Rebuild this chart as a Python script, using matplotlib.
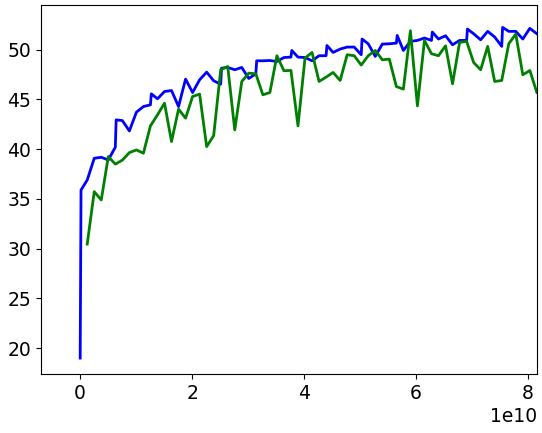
import matplotlib
matplotlib.use("Agg")
import matplotlib.pyplot as plt
import numpy as np

STEP = 0.1255e10  # spacing between evaluation points

# Blue series: step index (fractional .12 = re-evaluation right after a step) and value
blue_steps = [0, 0.12, 1, 2, 3, 4, 5, 5.12, 6, 7, 8, 9, 10, 10.12, 11, 12, 13, 14,
              15, 16, 17, 18, 19, 20, 20.12, 21, 22, 23, 24, 25, 25.12, 26, 27, 28,
              29, 30, 30.12, 31, 32, 33, 34, 35, 35.12, 36, 37, 38, 39, 40, 40.12,
              41, 42, 43, 44, 45, 45.12, 46, 47, 48, 49, 50, 50.12, 51, 52, 53, 54,
              55, 55.12, 56, 57, 58, 59, 60, 60.12, 61, 62, 63, 64, 65]
blue_vals = [19.0, 35.9, 36.9, 39.09, 39.19, 38.92, 40.2, 42.95, 42.88, 41.84, 43.72,
             44.29, 44.46, 45.57, 45.07, 45.8, 45.9, 44.29, 47.05, 45.7, 46.98, 47.75,
             46.88, 46.54, 48.15, 48.22, 47.99, 48.22, 47.11, 47.58, 48.89, 48.89,
             48.92, 48.82, 49.22, 49.26, 49.93, 49.26, 49.22, 48.89, 49.4, 49.4, 50.43,
             49.73, 50.07, 50.27, 50.27, 49.5, 51.08, 50.6, 49.33, 50.57, 50.6, 50.67,
             51.44, 49.93, 50.84, 50.94, 51.18, 50.94, 51.78, 51.08, 51.41, 50.5, 50.94,
             50.94, 52.08, 51.61, 51.0, 51.85, 51.28, 50.34, 52.25, 51.85, 51.85, 51.08,
             52.15, 51.61]

# Green series: step index 1..65 and value
green_steps = list(range(1, 66))
green_vals = [30.46, 35.73, 34.9, 39.26, 38.5, 38.9, 39.66, 39.93, 39.6, 42.35,
              43.45, 44.63, 40.77, 44.03, 43.12, 45.3, 45.54, 40.26, 41.37, 47.99,
              48.32, 41.94, 46.81, 47.65, 47.58, 45.47, 45.7, 49.4, 47.89, 47.92,
              42.35, 49.16, 49.73, 46.81, 47.25, 47.72, 46.91, 49.5, 49.4, 48.46,
              49.4, 49.93, 48.99, 49.06, 46.3, 46.04, 51.91, 44.36, 50.94, 49.6,
              49.4, 50.4, 46.58, 50.74, 50.84, 48.72, 47.99, 50.34, 46.81, 46.91,
              50.6, 51.58, 47.48, 47.92, 45.7]

y_ticks = [20, 25, 30, 35, 40, 45, 50]
x_ticks = [0, 2e10, 4e10, 6e10, 8e10]

plt.rcParams['font.size'] = 13.5

fig = plt.figure(figsize=(5.42, 4.33), dpi=100)
ax = fig.add_axes([41 / 542, 1 - 374 / 433, (537 - 41) / 542, (374 - 5) / 433])

bx = np.array(blue_steps) * STEP
gx = np.array(green_steps) * STEP
ax.plot(bx, blue_vals, color="blue", lw=2.0)
ax.plot(gx, green_vals, color="green", lw=2.0)

ax.set_xlim(-0.7e10, 8.16e10)
ax.set_ylim(17.4, 54.5)
ax.set_yticks(y_ticks)
ax.set_xticks(x_ticks)

fig.savefig("out.png", dpi=100)
